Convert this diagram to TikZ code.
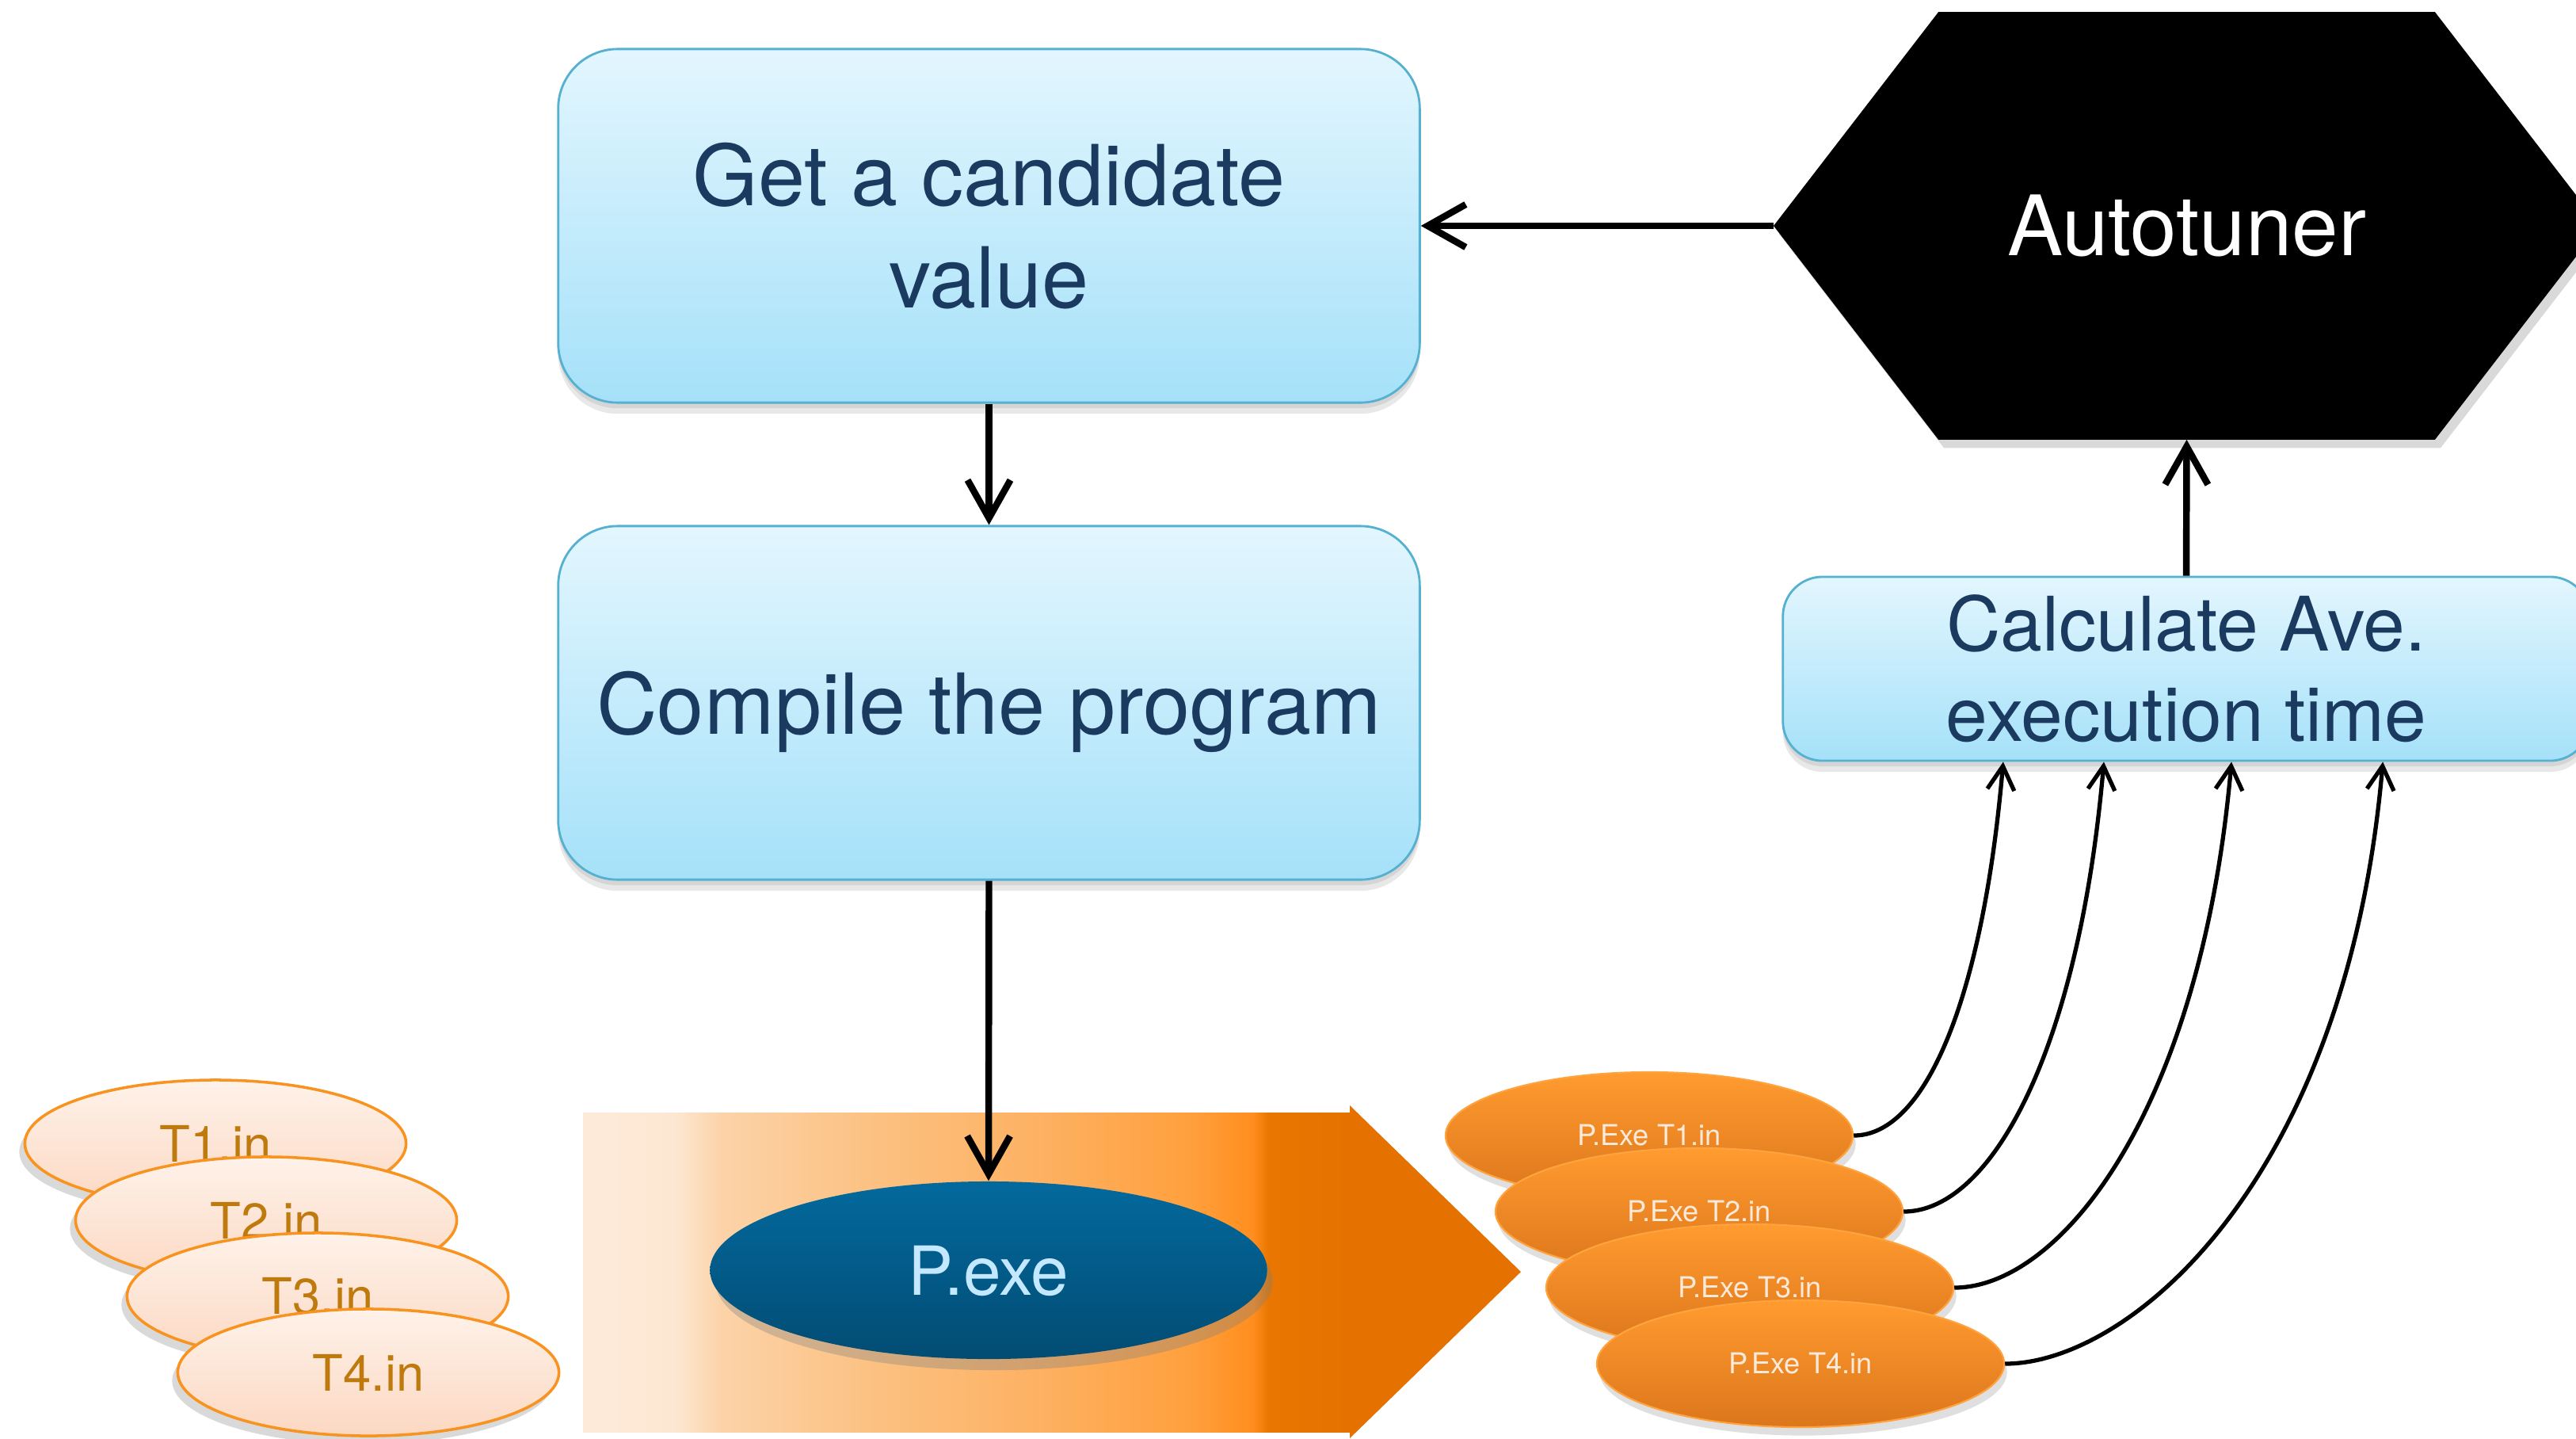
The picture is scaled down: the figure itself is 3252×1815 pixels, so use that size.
\documentclass[tikz,border=0pt]{standalone}
\usepackage{fontspec}
\setmainfont{TeX Gyre Heros}
\usetikzlibrary{arrows.meta,shadows,shapes.geometric}

\definecolor{boxtop}{HTML}{E3F6FE}
\definecolor{boxbot}{HTML}{A5E1F9}
\definecolor{boxline}{HTML}{55B1CF}
\definecolor{navy}{HTML}{1B3A60}
\definecolor{peachtop}{HTML}{FEF2EA}
\definecolor{peachbot}{HTML}{FCD8C2}
\definecolor{orline}{HTML}{F7931E}
\definecolor{peline}{HTML}{FFA33F}
\definecolor{tantext}{HTML}{BF7A0E}
\definecolor{ortop}{HTML}{FF9B2F}
\definecolor{orbot}{HTML}{DC761C}
\definecolor{pelabel}{HTML}{FBE9DA}
\definecolor{bluetop}{HTML}{03699D}
\definecolor{bluebot}{HTML}{024C73}
\definecolor{pexetext}{HTML}{C4E8FF}
\definecolor{arrowdark}{HTML}{E57200}
\definecolor{sa1}{HTML}{FDEBDA}
\definecolor{sa2}{HTML}{FDE7D2}
\definecolor{sa3}{HTML}{FCD3A8}
\definecolor{sa4}{HTML}{FCC182}
\definecolor{sa5}{HTML}{FDB264}
\definecolor{sa6}{HTML}{FFA03E}
\definecolor{sa7}{HTML}{FF8E1E}
\definecolor{sa8}{HTML}{E87600}
\definecolor{sa9}{HTML}{E57200}

\pgfdeclarehorizontalshading{bigarrowshade}{100bp}{color(0bp)=(sa1); color(25bp)=(sa1); color(31bp)=(sa2); color(34bp)=(sa3); color(43.8bp)=(sa4); color(54.1bp)=(sa5); color(64.4bp)=(sa6); color(68.6bp)=(sa7); color(69.6bp)=(sa8); color(75bp)=(sa9); color(100bp)=(sa9)}

\newcommand\ffBig{\fontsize{30.2pt}{36.5pt}\selectfont}
\newcommand\ffAuto{\fontsize{29.9pt}{36pt}\selectfont}
\newcommand\ffCalc{\fontsize{27pt}{32.4pt}\selectfont}
\newcommand\ffPexe{\fontsize{24.3pt}{28pt}\selectfont}
\newcommand\ffTin{\fontsize{18pt}{21pt}\selectfont}
\newcommand\ffPe{\fontsize{10.3pt}{12pt}\selectfont}

\tikzset{
  bluebox/.style={draw=boxline, line width=0.8pt, top color=boxtop, bottom color=boxbot,
    text=navy, align=center, inner sep=0pt,
    drop shadow={shadow xshift=0pt, shadow yshift=-4pt, opacity=0.18},
    drop shadow={shadow xshift=0pt, shadow yshift=-2pt, opacity=0.18}},
  tin/.style={ellipse, minimum width=4.81cm, minimum height=1.6cm, inner sep=0pt,
    draw=orline, line width=1pt, top color=peachtop, bottom color=peachbot,
    text=tantext, font=\ffTin,
    drop shadow={shadow xshift=-2pt, shadow yshift=-3pt, opacity=0.3}},
  pet/.style={ellipse, minimum width=5.14cm, minimum height=1.6cm, inner sep=0pt,
    draw=peline, line width=0.6pt, top color=ortop, bottom color=orbot,
    text=pelabel, font=\ffPe,
    drop shadow={shadow xshift=1pt, shadow yshift=-3pt, opacity=0.25}},
  mainarr/.style={line width=2.4pt, -{Straight Barb[length=4.8mm,width=5.4mm]}},
  curvearr/.style={line width=1.5pt, -{Straight Barb[length=3mm,width=3.4mm]}}
}

\begin{document}
\begin{tikzpicture}[x=0.01cm, y=-0.01cm]
\useasboundingbox (0,0) rectangle (3252,1815);
\clip (0,0) rectangle (3252,1815);

% big process arrow
\shade[shading=bigarrowshade] (736,1404) rectangle (1706,1807);
\fill[arrowdark] (1704,1395) -- (1920,1605) -- (1704,1815) -- cycle;

% P.exe
\node[ellipse, minimum width=7.03cm, minimum height=2.24cm, inner sep=0pt,
  top color=bluetop, bottom color=bluebot, text=pexetext, font=\ffPexe, text depth=0pt,
  drop shadow={shadow xshift=2pt, shadow yshift=-4pt, opacity=0.35}] (pexe) at (1248,1603) {P.exe};

% input files
\node[tin] (t1) at (272,1443) {T1.in};
\node[tin] (t2) at (336,1540) {T2.in};
\node[tin] (t3) at (401,1636) {T3.in};
\node[tin] (t4) at (465,1732) {T4.in};

% executions
\node[pet] (pe1) at (2082,1433) {P.Exe T1.in};
\node[pet] (pe2) at (2145,1529) {P.Exe T2.in};
\node[pet] (pe3) at (2209,1625) {P.Exe T3.in};
\node[pet] (pe4) at (2273,1721) {P.Exe T4.in};

% boxes
\node[bluebox, rounded corners=0.75cm, minimum width=10.87cm, minimum height=4.46cm, font=\ffBig]
  (get) at (1248.5,285) {Get a candidate\\value};
\node[bluebox, rounded corners=0.75cm, minimum width=10.87cm, minimum height=4.46cm, font=\ffBig, text depth=0pt]
  (compile) at (1248.5,887) {Compile the program};
\node[bluebox, rounded corners=0.5cm, minimum width=10.18cm, minimum height=2.32cm, font=\ffCalc]
  (calc) at (2760,844) {Calculate Ave.\\execution time};

% autotuner hexagon
\node[minimum width=10.41cm, minimum height=5.38cm, inner sep=0pt] (auto) at (2760.5,285) {};
\fill[black, drop shadow={shadow xshift=2pt, shadow yshift=-3pt, opacity=0.3}]
  (auto.west) -- ([xshift=2.08cm]auto.north west) -- ([xshift=-2.08cm]auto.north east)
  -- (auto.east) -- ([xshift=-2.08cm]auto.south east) -- ([xshift=2.08cm]auto.south west) -- cycle;
\node[text=white, font=\ffAuto] (autotxt) at (auto.center) {Autotuner};

% connectors
\draw[mainarr] (get.south) -- (compile.north);
\draw[mainarr] (compile.south) -- (pexe.north);
\draw[mainarr] (auto.west) -- (get.east);
\draw[mainarr] (calc.north) -- (auto.south);

\draw[curvearr] (pe1.east) .. controls +(90,0) and +(-26,300) .. ([xshift=-2.31cm]calc.south);
\draw[curvearr] (pe2.east) .. controls +(110,0) and +(-32,366) .. ([xshift=-1.04cm]calc.south);
\draw[curvearr] (pe3.east) .. controls +(133,0) and +(-39,442) .. ([xshift=0.57cm]calc.south);
\draw[curvearr] (pe4.east) .. controls +(158,0) and +(-46,528) .. ([xshift=2.48cm]calc.south);
\end{tikzpicture}
\end{document}
